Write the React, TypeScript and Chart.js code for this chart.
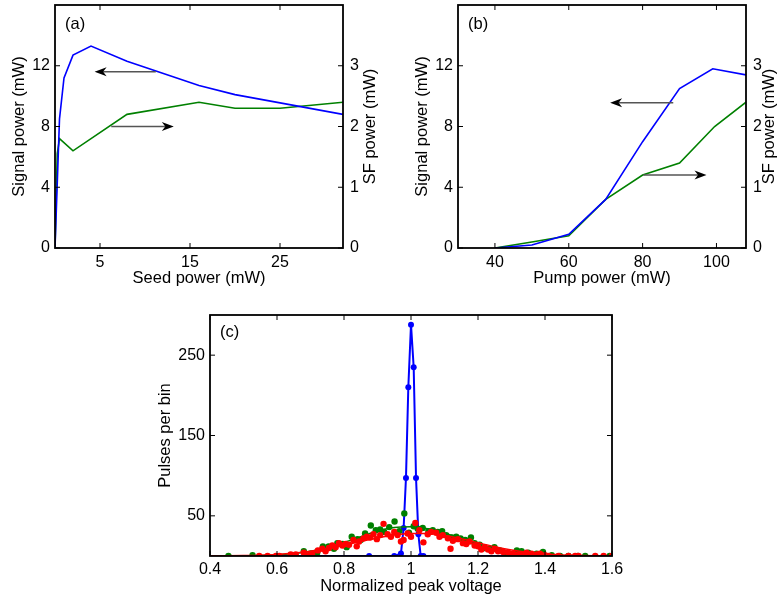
import React, { useEffect, useRef } from "react";
import { Chart, registerables } from "chart.js";

Chart.register(...registerables);

const FONT_FAMILY = "'Liberation Sans', Arial, Helvetica, sans-serif";
const BLUE = "#0000ff";
const GREEN = "#008000";
const RED = "#ff0000";

// ---------- Panel (a): versus seed power ----------
const seedPowerSignal = [0, 0.5, 1, 2, 4, 8, 16, 20, 32];
const signalVsSeed = [0, 8.5, 11.2, 12.7, 13.3, 12.3, 10.7, 10.1, 8.8];
const seedPowerSF = [0, 0.25, 0.5, 2, 8, 16, 20, 25, 32];
const sfVsSeed = [0, 1.55, 1.8, 1.6, 2.2, 2.4, 2.3, 2.3, 2.4];
const seedTicks = [5, 15, 25];
const signalTicks = [0, 4, 8, 12];
const sfTicks = [0, 1, 2, 3];
const arrowsA = [
  { x0: 11.2, x1: 4.4, y: 11.6 },
  { x0: 6.25, x1: 13.2, y: 8.0 },
];

// ---------- Panel (b): versus pump power ----------
const pumpPowerSignal = [40, 50, 60, 70, 80, 90, 99, 108];
const signalVsPump = [0, 0.2, 0.9, 3.2, 7.0, 10.5, 11.8, 11.4];
const pumpPowerSF = [40, 50, 60, 70, 80, 90, 99.5, 108];
const sfVsPump = [0, 0.1, 0.2, 0.8, 1.2, 1.4, 2.0, 2.4];
const pumpTicks = [40, 60, 80, 100];
const arrowsB = [
  { x0: 88.3, x1: 71.2, y: 9.56 },
  { x0: 80.2, x1: 97.3, y: 4.81 },
];

// ---------- Panel (c): pulse-height histograms ----------
const blueX = [0.4, 0.875, 0.95, 0.97, 0.978, 0.985, 0.992, 1.0, 1.008, 1.015, 1.022, 1.029, 1.037, 1.6];
const blueY = [0, 0, 0, 3, 35, 97, 210, 288, 235, 97, 27, 0, 0, 0];
const blueMarker = [0, 3, 3, 3, 3, 3, 3, 3, 3, 3, 3, 3, 3, 0];

const greenX = [0.455, 0.527, 0.68, 0.7, 0.72, 0.737, 0.754, 0.77, 0.78, 0.796, 0.808, 0.823, 0.84, 0.85, 0.863, 0.88, 0.895, 0.908, 0.92, 0.935, 0.951, 0.965, 0.98, 0.994, 1.008, 1.02, 1.035, 1.052, 1.065, 1.08, 1.093, 1.105, 1.122, 1.135, 1.148, 1.162, 1.179, 1.19, 1.205, 1.22, 1.235, 1.249, 1.265, 1.28, 1.293, 1.316, 1.33, 1.35, 1.375, 1.394, 1.42, 1.445, 1.47, 1.498, 1.52, 1.593];
const greenY = [0, 1, 6, 3, 4, 12, 12, 9, 16, 15, 11, 24, 21, 20, 28, 38, 32, 33, 30, 36, 43, 31, 53, 29, 37, 34, 35, 31, 32, 30, 31, 26, 23, 24, 22, 20, 23, 16, 14, 10, 9, 11, 7, 4, 0, 7, 6, 4, 3, 5, 1, 0, 0, 0, 0, 0];

const redX = [0.547, 0.572, 0.597, 0.607, 0.641, 0.656, 0.68, 0.695, 0.705, 0.722, 0.735, 0.745, 0.755, 0.765, 0.775, 0.785, 0.795, 0.805, 0.815, 0.828, 0.838, 0.845, 0.858, 0.868, 0.878, 0.888, 0.898, 0.908, 0.918, 0.93, 0.94, 0.95, 0.96, 0.97, 0.978, 0.99, 1.0, 1.013, 1.025, 1.037, 1.05, 1.06, 1.075, 1.085, 1.095, 1.11, 1.118, 1.125, 1.14, 1.155, 1.165, 1.175, 1.19, 1.2, 1.21, 1.22, 1.23, 1.24, 1.25, 1.26, 1.275, 1.29, 1.305, 1.32, 1.335, 1.345, 1.36, 1.375, 1.385, 1.4, 1.41, 1.44, 1.47, 1.49, 1.5, 1.55, 1.575, 1.6];
const redY = [0, 0, 0, 0, 2, 2, 4, 1, 3, 7, 9, 6, 10, 13, 11, 16, 13, 15, 14, 20, 12, 18, 22, 24, 23, 27, 21, 26, 40, 27, 24, 30, 26, 18, 20, 28, 24, 41, 32, 17, 27, 30, 29, 24, 26, 22, 9, 19, 21, 16, 15, 18, 13, 12, 8, 11, 8, 6, 9, 6, 5, 4, 3, 2, 2, 4, 3, 2, 3, 1, 0, 0, 0, 0, 0, 0, 0, 0];

const fitX = [0.4, 0.45, 0.5, 0.55, 0.6, 0.65, 0.7, 0.75, 0.8, 0.85, 0.9, 0.95, 1.0, 1.05, 1.1, 1.15, 1.2, 1.25, 1.3, 1.35, 1.4, 1.45, 1.5, 1.55, 1.6];
const greenFit = [0, 0.1, 0.3, 0.7, 1.5, 3.2, 6, 11, 17, 24, 31, 35.5, 36.5, 34, 28.5, 22, 15, 9.5, 5.3, 2.7, 1.2, 0.5, 0.2, 0.1, 0];
const redFit = [0.3, 0.4, 0.6, 1, 2, 3.6, 6, 9.5, 13.5, 18, 22.5, 26, 28, 28, 25.5, 21.5, 16.5, 11.5, 7.5, 4.5, 2.5, 1.2, 0.7, 0.4, 0.3];
const voltageTicks = [0.4, 0.6, 0.8, 1.0, 1.2, 1.4, 1.6];
const pulseTicks = [50, 150, 250];

const pts = (xs: number[], ys: number[]) => xs.map((x, i) => ({ x, y: ys[i] }));

const decorPlugin = {
  id: "decor",
  afterDatasetsDraw(chart: any, _args: any, opts: any) {
    const { ctx, chartArea: a } = chart;
    ctx.save();
    ctx.strokeStyle = "#000";
    ctx.lineWidth = 1.8;
    ctx.strokeRect(a.left, a.top, a.right - a.left, a.bottom - a.top);
    const L = 5;
    ctx.lineWidth = 1;
    for (const s of Object.values(chart.scales) as any[]) {
      for (const t of s.ticks) {
        const p = s.getPixelForValue(t.value);
        ctx.beginPath();
        if (s.isHorizontal()) {
          ctx.moveTo(p, a.bottom);
          ctx.lineTo(p, a.bottom - L);
          ctx.moveTo(p, a.top);
          ctx.lineTo(p, a.top + L);
        } else if (s.position === "left") {
          ctx.moveTo(a.left, p);
          ctx.lineTo(a.left + L, p);
          if (opts.mirrorY) {
            ctx.moveTo(a.right, p);
            ctx.lineTo(a.right - L, p);
          }
        } else {
          ctx.moveTo(a.right, p);
          ctx.lineTo(a.right - L, p);
        }
        ctx.stroke();
      }
    }
    for (const ar of opts.arrows || []) {
      const xs = chart.scales.x;
      const ys = chart.scales.y;
      const px0 = xs.getPixelForValue(ar.x0);
      const px1 = xs.getPixelForValue(ar.x1);
      const py = ys.getPixelForValue(ar.y);
      const dir = Math.sign(px1 - px0);
      const HL = 12, HW = 4.5, notch = 3.5;
      ctx.strokeStyle = "#555";
      ctx.lineWidth = 1.5;
      ctx.beginPath();
      ctx.moveTo(px0, py);
      ctx.lineTo(px1 - dir * (HL - notch), py);
      ctx.stroke();
      ctx.fillStyle = "#000";
      ctx.beginPath();
      ctx.moveTo(px1, py);
      ctx.lineTo(px1 - dir * HL, py - HW);
      ctx.lineTo(px1 - dir * (HL - notch), py);
      ctx.lineTo(px1 - dir * HL, py + HW);
      ctx.closePath();
      ctx.fill();
    }
    ctx.fillStyle = "#000";
    ctx.font = `16.5px ${FONT_FAMILY}`;
    ctx.textBaseline = "middle";
    ctx.textAlign = "left";
    ctx.fillText(opts.label, a.left + 10, a.top + opts.labelDy);
    if (opts.rightTitle) {
      const s = chart.scales.y1;
      ctx.translate(s.right - opts.rightTitleOffset, (a.top + a.bottom) / 2);
      ctx.rotate(-Math.PI / 2);
      ctx.textAlign = "center";
      ctx.fillText(opts.rightTitle, 0, 0);
    }
    ctx.restore();
  },
};

const tickFont = { family: FONT_FAMILY, size: 16 };
const titleFont = { family: FONT_FAMILY, size: 16.5 };
const fixTicks = (vals: number[]) => (s: any) => {
  s.ticks = vals.map((v) => ({ value: v }));
};
const sized = (w: number | null, h: number | null) => (s: any) => {
  if (w !== null) s.width = w;
  if (h !== null) s.height = h;
  s.paddingTop = 0;
  s.paddingBottom = 0;
  s.paddingLeft = 0;
  s.paddingRight = 0;
};

function dualConfig(p: any) {
  return {
    type: "scatter",
    data: {
      datasets: [
        {
          data: pts(p.x1, p.y1),
          yAxisID: "y",
          showLine: true,
          borderColor: BLUE,
          backgroundColor: BLUE,
          borderWidth: 1.6,
          pointRadius: 0,
          tension: 0,
        },
        {
          data: pts(p.x2, p.y2),
          yAxisID: "y1",
          showLine: true,
          borderColor: GREEN,
          backgroundColor: GREEN,
          borderWidth: 1.6,
          pointRadius: 0,
          tension: 0,
        },
      ],
    },
    options: {
      responsive: false,
      animation: false,
      events: [],
      layout: { padding: { top: 5, left: 0, right: 0, bottom: 0 } },
      plugins: {
        legend: { display: false },
        tooltip: { enabled: false },
        decor: {
          label: p.label,
          labelDy: 19,
          arrows: p.arrows,
          rightTitle: "SF power (mW)",
          rightTitleOffset: p.rightTitleOffset,
        },
      },
      scales: {
        x: {
          type: "linear",
          min: p.xmin,
          max: p.xmax,
          afterBuildTicks: fixTicks(p.xticks),
          afterFit: sized(null, 52),
          grid: { display: false, drawTicks: false },
          border: { display: false },
          ticks: { font: tickFont, color: "#000", padding: 5, maxRotation: 0 },
          title: { display: true, text: p.xtitle, font: titleFont, color: "#000", padding: { top: 0, bottom: 12 } },
        },
        y: {
          type: "linear",
          position: "left",
          min: 0,
          max: 16,
          afterBuildTicks: fixTicks(signalTicks),
          afterFit: sized(p.leftWidth, null),
          grid: { display: false, drawTicks: false },
          border: { display: false },
          ticks: { font: tickFont, color: "#000", padding: 5 },
          title: { display: true, text: "Signal power (mW)", font: titleFont, color: "#000", padding: { top: p.leftTitlePad, bottom: 0 } },
        },
        y1: {
          type: "linear",
          position: "right",
          min: 0,
          max: 4,
          afterBuildTicks: fixTicks(sfTicks),
          afterFit: sized(p.rightWidth, null),
          grid: { display: false, drawTicks: false },
          border: { display: false },
          ticks: { font: tickFont, color: "#000", padding: 7 },
          title: { display: false, text: "SF power (mW)" },
        },
      },
    },
    plugins: [decorPlugin],
  };
}

function histConfig() {
  return {
    type: "scatter",
    data: {
      datasets: [
        {
          data: pts(redX, redY),
          showLine: false,
          backgroundColor: RED,
          pointRadius: 3.2,
          pointBorderWidth: 0,
        },
        {
          data: pts(fitX, redFit),
          showLine: true,
          borderColor: RED,
          borderWidth: 1.5,
          pointRadius: 0,
          cubicInterpolationMode: "monotone",
        },
        {
          data: pts(greenX, greenY),
          showLine: false,
          backgroundColor: GREEN,
          pointRadius: 3.2,
          pointBorderWidth: 0,
        },
        {
          data: pts(fitX, greenFit),
          showLine: true,
          borderColor: GREEN,
          borderWidth: 1.5,
          pointRadius: 0,
          cubicInterpolationMode: "monotone",
        },
        {
          data: pts(blueX, blueY),
          showLine: true,
          borderColor: BLUE,
          backgroundColor: BLUE,
          borderWidth: 2,
          pointRadius: blueMarker,
          pointBorderWidth: 0,
          tension: 0,
        },
      ],
    },
    options: {
      responsive: false,
      animation: false,
      events: [],
      layout: { padding: { top: 15, left: 0, right: 18, bottom: 0 } },
      plugins: {
        legend: { display: false },
        tooltip: { enabled: false },
        decor: { label: "(c)", labelDy: 17, arrows: [], mirrorY: true },
      },
      scales: {
        x: {
          type: "linear",
          min: 0.4,
          max: 1.6,
          afterBuildTicks: fixTicks(voltageTicks),
          afterFit: sized(null, 42),
          grid: { display: false, drawTicks: false },
          border: { display: false },
          ticks: {
            font: tickFont,
            color: "#000",
            padding: 4,
            maxRotation: 0,
            callback: (v: any) => (Math.abs(v - 1) < 1e-9 ? "1" : Number(v).toFixed(1)),
          },
          title: { display: true, text: "Normalized peak voltage", font: titleFont, color: "#000", padding: { top: 0, bottom: 2 } },
        },
        y: {
          type: "linear",
          position: "left",
          min: 0,
          max: 300,
          afterBuildTicks: fixTicks(pulseTicks),
          afterFit: sized(60, null),
          grid: { display: false, drawTicks: false },
          border: { display: false },
          ticks: { font: tickFont, color: "#000", padding: 5 },
          title: { display: true, text: "Pulses per bin", font: titleFont, color: "#000", padding: { top: 5.5, bottom: 0 } },
        },
      },
    },
    plugins: [decorPlugin],
  };
}

function Panel({ left, top, width, height, make }: any) {
  const ref = useRef<HTMLCanvasElement>(null);
  useEffect(() => {
    const chart = new Chart(ref.current as HTMLCanvasElement, make() as any);
    return () => chart.destroy();
  }, []);
  return (
    <canvas
      ref={ref}
      width={width}
      height={height}
      style={{ position: "absolute", left, top, width, height }}
    />
  );
}

export default function App() {
  return (
    <div style={{ position: "absolute", left: 0, top: 0, width: 777, height: 598, background: "#fff", overflow: "hidden" }}>
      <Panel
        left={0}
        top={0}
        width={390}
        height={300}
        make={() =>
          dualConfig({
            x1: seedPowerSignal, y1: signalVsSeed, x2: seedPowerSF, y2: sfVsSeed,
            xmin: 0, xmax: 32, xticks: seedTicks, xtitle: "Seed power (mW)",
            label: "(a)", arrows: arrowsA, leftWidth: 55, rightWidth: 47,
            leftTitlePad: 9.4, rightTitleOffset: 20,
          })
        }
      />
      <Panel
        left={390}
        top={0}
        width={387}
        height={300}
        make={() =>
          dualConfig({
            x1: pumpPowerSignal, y1: signalVsPump, x2: pumpPowerSF, y2: sfVsPump,
            xmin: 30, xmax: 108, xticks: pumpTicks, xtitle: "Pump power (mW)",
            label: "(b)", arrows: arrowsB, leftWidth: 68, rightWidth: 31,
            leftTitlePad: 22.5, rightTitleOffset: 7.5,
          })
        }
      />
      <Panel left={150} top={300} width={480} height={298} make={histConfig} />
    </div>
  );
}
